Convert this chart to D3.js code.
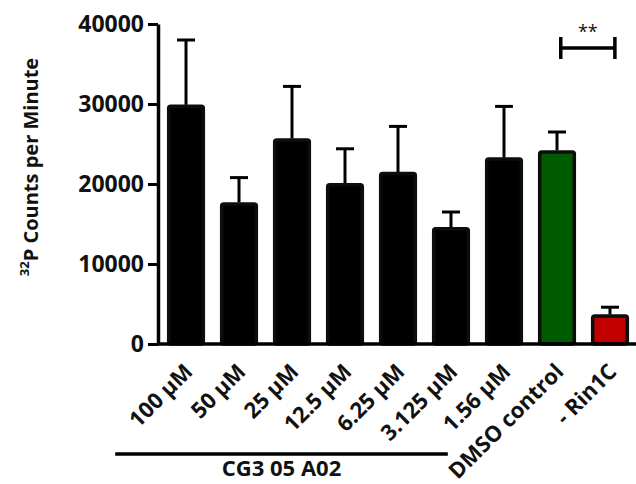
<!DOCTYPE html>
<html>
<head>
<meta charset="utf-8">
<script src="https://cdn.jsdelivr.net/npm/d3@7"></script>
<style>
  html, body { margin: 0; padding: 0; background: #fff; }
  svg { display: block; }
  text { font-family: "Open Sans", "Noto Sans", sans-serif; font-weight: 700; fill: #111; }
</style>
</head>
<body>
<svg id="chart" width="636" height="484"></svg>
<script>
// Treatments along the x axis
const categories = ["100 μM", "50 μM", "25 μM", "12.5 μM", "6.25 μM", "3.125 μM", "1.56 μM", "DMSO control", "- Rin1C"];
// Mean 32P counts per minute and upper error (SD) for each treatment
const means  = [29900, 17700, 25700, 20100, 21500, 14600, 23300, 24200, 3700];
const errors = [8100, 3100, 6500, 4300, 5700, 1900, 6400, 2300, 900];
// Y axis ticks
const yTicks = [0, 10000, 20000, 30000, 40000];
// Compound concentrations grouped under one bracket
const groupName = "CG3 05 A02";
const groupMembers = categories.slice(0, 7);
// Significance marker between the control and the no-Rin1C condition
const sigPair = ["DMSO control", "- Rin1C"];
const sigLabel = "**";

const fillFor = c => c === "DMSO control" ? "#005a00" : c === "- Rin1C" ? "#c20000" : "#000";

const svg = d3.select("#chart");

const x = d3.scaleBand()
  .domain(categories)
  .range([158.5, 637.5])
  .paddingInner(0.29)
  .paddingOuter(0.164);

const y = d3.scaleLinear().domain([0, 40000]).range([344, 24]);

// Bars
svg.append("g").selectAll("rect")
  .data(categories)
  .join("rect")
  .attr("x", d => x(d) + 1.5)
  .attr("y", (d, i) => y(means[i]) + 1.5)
  .attr("width", x.bandwidth() - 3)
  .attr("height", (d, i) => y(0) - y(means[i]) - 1.5)
  .attr("rx", 2)
  .attr("fill", fillFor)
  .attr("stroke", "#0d0d0d")
  .attr("stroke-width", 3.5);

// Upper error bars
const capW = 18;
const eb = svg.append("g").attr("stroke", "#000").attr("stroke-width", 3);
categories.forEach((c, i) => {
  const cx = x(c) + x.bandwidth() / 2;
  eb.append("line")
    .attr("x1", cx).attr("x2", cx)
    .attr("y1", y(means[i])).attr("y2", y(means[i] + errors[i]));
  eb.append("line")
    .attr("x1", cx - capW / 2).attr("x2", cx + capW / 2)
    .attr("y1", y(means[i] + errors[i])).attr("y2", y(means[i] + errors[i]));
});

// Y axis
const yAxis = svg.append("g")
  .attr("transform", "translate(158,0)")
  .call(d3.axisLeft(y).tickValues(yTicks).tickFormat(d3.format("d")).tickSize(10).tickSizeOuter(0).tickPadding(4));
yAxis.select(".domain").attr("stroke", "#000").attr("stroke-width", 3.5);
yAxis.selectAll(".tick line").attr("stroke", "#000").attr("stroke-width", 3);
yAxis.selectAll(".tick text")
  .style("font-size", "23px")
  .style("font-family", "'Open Sans', sans-serif")
  .style("font-weight", 700)
  .attr("fill", "#111");

// X axis baseline
svg.append("line")
  .attr("x1", 157).attr("x2", 636)
  .attr("y1", y(0)).attr("y2", y(0))
  .attr("stroke", "#000").attr("stroke-width", 3.5);

// Rotated category labels
svg.append("g").selectAll("text")
  .data(categories)
  .join("text")
  .attr("text-anchor", "end")
  .attr("transform", d => `translate(${x(d) + x.bandwidth() / 2 + 8},${373}) rotate(-45)`)
  .style("font-size", "22px")
  .text(d => d);

// Y axis title
const yTitle = svg.append("text")
  .attr("transform", "translate(38,167) rotate(-90)")
  .attr("text-anchor", "middle")
  .style("font-size", "20px");
yTitle.append("tspan").attr("baseline-shift", "super").style("font-size", "13px").text("32");
yTitle.append("tspan").text("P Counts per Minute");

// Group bracket under the compound concentrations
const gx0 = x(groupMembers[0]) - 52;
const gx1 = x(groupMembers[groupMembers.length - 1]) + x.bandwidth() - 75;
svg.append("line")
  .attr("x1", gx0).attr("x2", gx1)
  .attr("y1", 454).attr("y2", 454)
  .attr("stroke", "#000").attr("stroke-width", 3.5);
svg.append("text")
  .attr("x", (gx0 + gx1) / 2)
  .attr("y", 476)
  .attr("text-anchor", "middle")
  .style("font-size", "22px")
  .text(groupName);

// Significance bracket
const sx0 = x(sigPair[0]) + x.bandwidth() * 0.6;
const sx1 = x(sigPair[1]) + x.bandwidth() * 0.63;
const sy = 48;
const sig = svg.append("g").attr("stroke", "#000").attr("stroke-width", 3.5);
sig.append("line").attr("x1", sx0).attr("x2", sx1).attr("y1", sy).attr("y2", sy);
sig.append("line").attr("x1", sx0).attr("x2", sx0).attr("y1", sy - 11).attr("y2", sy + 11);
sig.append("line").attr("x1", sx1).attr("x2", sx1).attr("y1", sy - 11).attr("y2", sy + 11);
svg.append("text")
  .attr("x", (sx0 + sx1) / 2)
  .attr("y", 38)
  .attr("text-anchor", "middle")
  .style("font-size", "18px")
  .style("font-weight", 400)
  .attr("fill", "#333")
  .text(sigLabel);
</script>
</body>
</html>
